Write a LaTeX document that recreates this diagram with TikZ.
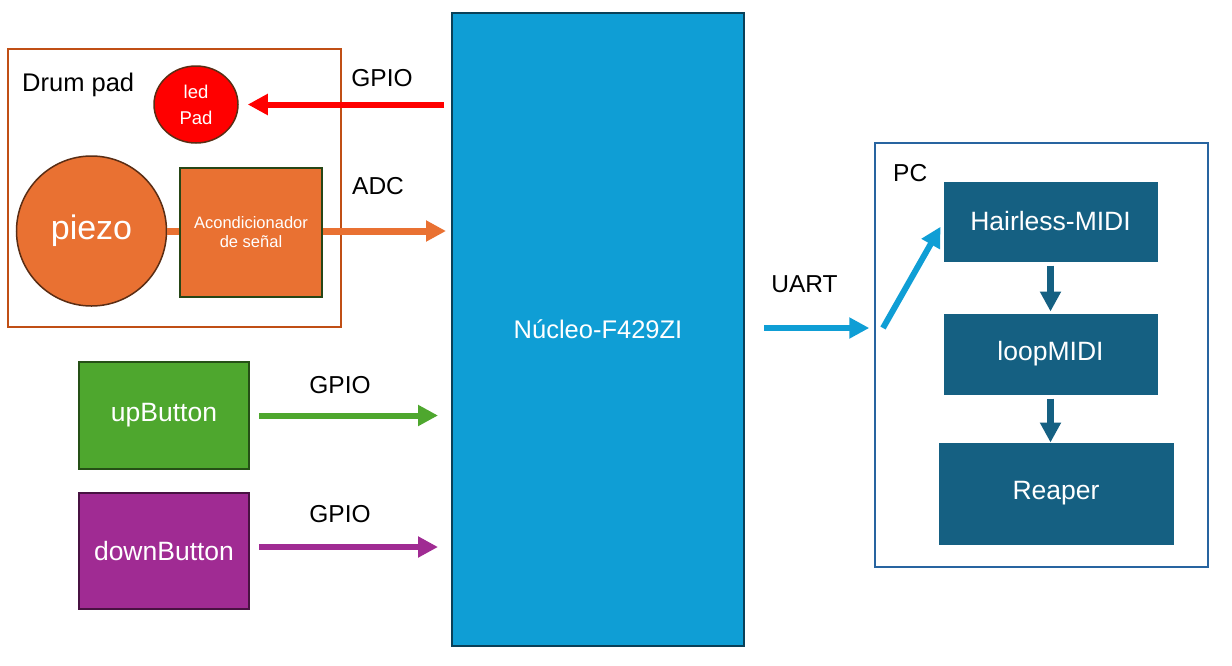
\documentclass[tikz,border=0pt]{standalone}
\usepackage{fontspec}
\setmainfont{Liberation Sans}
\usetikzlibrary{arrows.meta,shapes.geometric}
\definecolor{nucleoblue}{RGB}{15,158,213}
\definecolor{nucleoedge}{RGB}{10,64,88}
\definecolor{padorange}{RGB}{233,113,50}
\definecolor{padedge}{RGB}{192,79,21}
\definecolor{ringbrown}{RGB}{90,45,20}
\definecolor{condedge}{RGB}{38,70,22}
\definecolor{upgreen}{RGB}{78,167,46}
\definecolor{upedge}{RGB}{37,80,22}
\definecolor{downpurple}{RGB}{160,43,147}
\definecolor{downedge}{RGB}{72,18,66}
\definecolor{pcblue}{RGB}{21,96,130}
\definecolor{pcedge}{RGB}{40,100,160}

\begin{document}
\begin{tikzpicture}[x=1pt, y=-1pt,
  blk/.style={draw, line width=2pt, inner sep=0pt, align=center, text=white, font=\fontsize{26.5}{31}\selectfont},
  lbl/.style={anchor=base, inner sep=0pt, font=\fontsize{24.5}{29}\selectfont},
  wire/.style={line width=#1, -{Triangle[length=20pt,width=20pt]}}]
  \useasboundingbox (0,0) rectangle (1232,665);
  \fill[white] (0,0) rectangle (1232,665);
  \node[draw=padedge, line width=2pt, minimum width=333pt, minimum height=278pt] (drumpad) at (174.5,188) {};
  \node[lbl, anchor=base west, font=\fontsize{25.5}{30}\selectfont] (drumlbl) at (22,91) {Drum pad};
  \node[blk, ellipse, fill=red, draw=ringbrown, line width=1.5pt, minimum width=84pt, minimum height=77pt,
        font=\fontsize{18.5}{26}\selectfont] (ledpad) at (196,104.5) {led\\Pad};
  \node[blk, circle, fill=padorange, draw=ringbrown, line width=1.5pt, minimum size=150pt,
        font=\fontsize{34}{40}\selectfont] (piezo) at (91.5,231) {piezo};
  \node[blk, fill=padorange, draw=condedge, minimum width=142pt, minimum height=129pt,
        font=\fontsize{16.5}{19}\selectfont] (acond) at (251,232) {Acondicionador\\de señal};
  \node[blk, fill=nucleoblue, draw=nucleoedge, minimum width=292pt, minimum height=633pt,
        font=\fontsize{25.5}{30}\selectfont] (nucleo) at (598,329.5) {Núcleo-F429ZI};
  \node[blk, fill=upgreen, draw=upedge, minimum width=170pt, minimum height=107pt] (upbtn) at (164,415.5) {upButton};
  \node[blk, fill=downpurple, draw=downedge, minimum width=170pt, minimum height=116pt] (downbtn) at (164,551) {downButton};
  \node[draw=pcedge, line width=1.5pt, minimum width=333pt, minimum height=424pt] (pc) at (1041.5,355) {};
  \node[lbl, anchor=base west] (pclbl) at (893,181) {PC};
  \node[blk, fill=pcblue, draw=pcblue, line width=1pt, minimum width=213pt, minimum height=79pt] (hairless) at (1050.5,221.5) {Hairless-MIDI};
  \node[blk, fill=pcblue, draw=pcblue, line width=1pt, minimum width=213pt, minimum height=80pt] (loopmidi) at (1050.5,354) {loopMIDI};
  \node[blk, fill=pcblue, draw=pcblue, line width=1pt, minimum width=234pt, minimum height=101pt] (reaper) at (1056,493.5) {Reaper};
  \node[lbl] (gpioled) at (382,86) {GPIO};
  \node[lbl, anchor=base west] (adclbl) at (352,194) {ADC};
  \node[lbl] (gpioup) at (340,393) {GPIO};
  \node[lbl] (gpiodown) at (340,522) {GPIO};
  \node[lbl] (uartlbl) at (804.5,292) {UART};
  \coordinate (uartin) at (883,328);
  \draw[wire=6pt, red, shorten <=7pt, shorten >=9pt] (nucleo.west |- ledpad.east) -- (ledpad.east);
  \draw[line width=7pt, padorange] (piezo.east) -- (piezo.east -| acond.west);
  \draw[wire=7pt, padorange, shorten >=5pt] (piezo.east -| acond.east) -- (piezo.east -| nucleo.west);
  \draw[wire=6pt, upgreen, shorten <=9pt, shorten >=13pt] (upbtn.east) -- (upbtn.east -| nucleo.west);
  \draw[wire=6pt, downpurple, shorten <=9pt, shorten >=13pt] ([yshift=4pt]downbtn.east) -- ([yshift=4pt]downbtn.east -| nucleo.west);
  \draw[wire=6pt, nucleoblue, shorten <=19pt, shorten >=5pt] (nucleo.east |- uartin) -- (pc.west |- uartin);
  \draw[wire=6pt, nucleoblue, shorten >=6pt] (uartin) -- (hairless.west);
  \draw[wire=7pt, pcblue, shorten <=4pt, shorten >=2pt] (hairless.south) -- (loopmidi.north);
  \draw[wire=7pt, pcblue, shorten <=4pt] (loopmidi.south) -- (loopmidi.south |- reaper.north);
\end{tikzpicture}
\end{document}
